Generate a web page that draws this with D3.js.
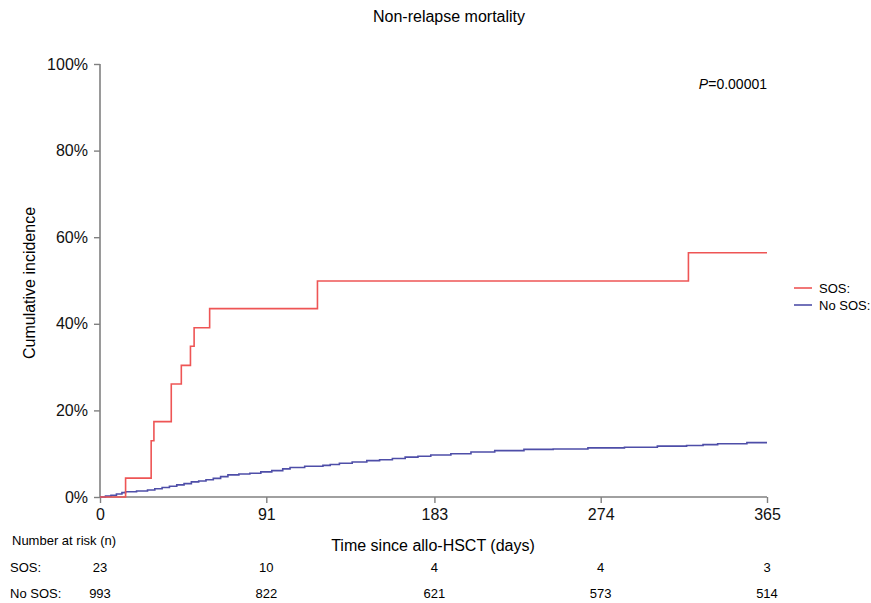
<!DOCTYPE html>
<html>
<head>
<meta charset="utf-8">
<script src="https://cdn.jsdelivr.net/npm/d3@7"></script>
<style>
  body { margin: 0; background: #fff; }
  svg { font-family: "Liberation Sans", Arial, sans-serif; }
</style>
</head>
<body>
<svg width="871" height="603"></svg>
<script>
"use strict";

// cumulative incidence (%) steps: [day, value]
const sosSteps = [[0, 0], [14, 4.35], [28, 13.0], [29.5, 17.4], [39, 26.1], [44.5, 30.4],
  [49.5, 34.8], [51.5, 39.1], [60, 43.5], [119, 49.9], [322, 56.4], [365, 56.4]];
const noSosSteps = [[0, 0], [3, 0.2], [6, 0.4], [9, 0.7], [12, 1.0], [14, 1.2], [20, 1.4],
  [26, 1.6], [30, 1.9], [34, 2.2], [38, 2.5], [42, 2.8], [46, 3.1], [50, 3.5], [54, 3.7],
  [58, 4.0], [62, 4.3], [66, 4.7], [70, 5.1], [76, 5.3], [82, 5.5], [88, 5.8], [94, 6.1],
  [100, 6.5], [104, 6.8], [112, 7.1], [122, 7.3], [126, 7.5], [131, 7.8], [138, 8.1],
  [146, 8.4], [153, 8.6], [160, 8.9], [167, 9.2], [174, 9.4], [181, 9.7], [192, 10.0],
  [203, 10.4], [216, 10.7], [232, 11.0], [248, 11.1], [267, 11.35], [287, 11.5],
  [305, 11.75], [321, 11.9], [330, 12.1], [338, 12.3], [354, 12.55], [365, 12.55]];

const xTicks = [0, 91, 183, 274, 365];
const yTicks = [0, 20, 40, 60, 80, 100];
const seriesNames = ["SOS:", "No SOS:"];
const seriesColors = ["#ee5555", "#4e4ea8"];
const atRiskSos = [23, 10, 4, 4, 3];
const atRiskNoSos = [993, 822, 621, 573, 514];

const svg = d3.select("svg");
const x = d3.scaleLinear().domain([0, 365]).range([100, 767]);
const y = d3.scaleLinear().domain([0, 100]).range([497, 64]);
const axisColor = "#808080";

// title
svg.append("text")
  .attr("x", 449).attr("y", 22)
  .attr("text-anchor", "middle")
  .style("font-size", "16px")
  .text("Non-relapse mortality");

// y axis
const yAxis = svg.append("g")
  .attr("transform", `translate(${x(0)},0)`)
  .call(d3.axisLeft(y).tickValues(yTicks).tickFormat(d => d + "%").tickSize(6).tickPadding(6));
yAxis.select(".domain").attr("stroke", axisColor).attr("stroke-width", 1.6).attr("d", `M0,${y(100)}V${y(0)}`);
yAxis.selectAll(".tick line").attr("stroke", axisColor).attr("stroke-width", 1.4);
yAxis.selectAll(".tick text").style("font-size", "16px").attr("fill", "#111");

// x axis
const xAxis = svg.append("g")
  .attr("transform", `translate(0,${y(0)})`)
  .call(d3.axisBottom(x).tickValues(xTicks).tickSize(6).tickPadding(6));
xAxis.select(".domain").attr("stroke", axisColor).attr("stroke-width", 1.6).attr("d", `M${x(0)},0H${x(365)}`);
xAxis.selectAll(".tick line").attr("stroke", axisColor).attr("stroke-width", 1.4);
xAxis.selectAll(".tick text").style("font-size", "16px").attr("fill", "#111");

// axis titles
svg.append("text")
  .attr("x", 433).attr("y", 551)
  .attr("text-anchor", "middle")
  .style("font-size", "16px")
  .text("Time since allo-HSCT (days)");

svg.append("text")
  .attr("transform", "translate(35,283) rotate(-90)")
  .attr("text-anchor", "middle")
  .style("font-size", "16px")
  .text("Cumulative incidence");

// curves
const line = d3.line()
  .x(d => x(d[0]))
  .y(d => y(d[1]))
  .curve(d3.curveStepAfter);

[noSosSteps, sosSteps].forEach((s, i) => {
  svg.append("path")
    .datum(s)
    .attr("fill", "none")
    .attr("stroke", seriesColors[1 - i])
    .attr("stroke-width", 1.6)
    .attr("d", line);
});

// p value
const p = svg.append("text")
  .attr("x", 767).attr("y", 89)
  .attr("text-anchor", "end")
  .style("font-size", "14px");
p.append("tspan").style("font-style", "italic").text("P");
p.append("tspan").text("=0.00001");

// legend
seriesNames.forEach((name, i) => {
  const ly = 288 + i * 17;
  svg.append("line")
    .attr("x1", 794).attr("x2", 812)
    .attr("y1", ly).attr("y2", ly)
    .attr("stroke", seriesColors[i]).attr("stroke-width", 1.6);
  svg.append("text")
    .attr("x", 819).attr("y", ly + 5)
    .style("font-size", "13px")
    .text(name);
});

// number at risk table
svg.append("text")
  .attr("x", 12).attr("y", 545)
  .style("font-size", "13px")
  .text("Number at risk (n)");

[atRiskSos, atRiskNoSos].forEach((row, i) => {
  const ry = 572 + i * 26;
  svg.append("text")
    .attr("x", 10).attr("y", ry)
    .style("font-size", "13px")
    .text(seriesNames[i]);
  svg.selectAll(null)
    .data(row)
    .enter()
    .append("text")
    .attr("x", (d, j) => x(xTicks[j]))
    .attr("y", ry)
    .attr("text-anchor", "middle")
    .style("font-size", "13px")
    .text(d => d);
});
</script>
</body>
</html>
